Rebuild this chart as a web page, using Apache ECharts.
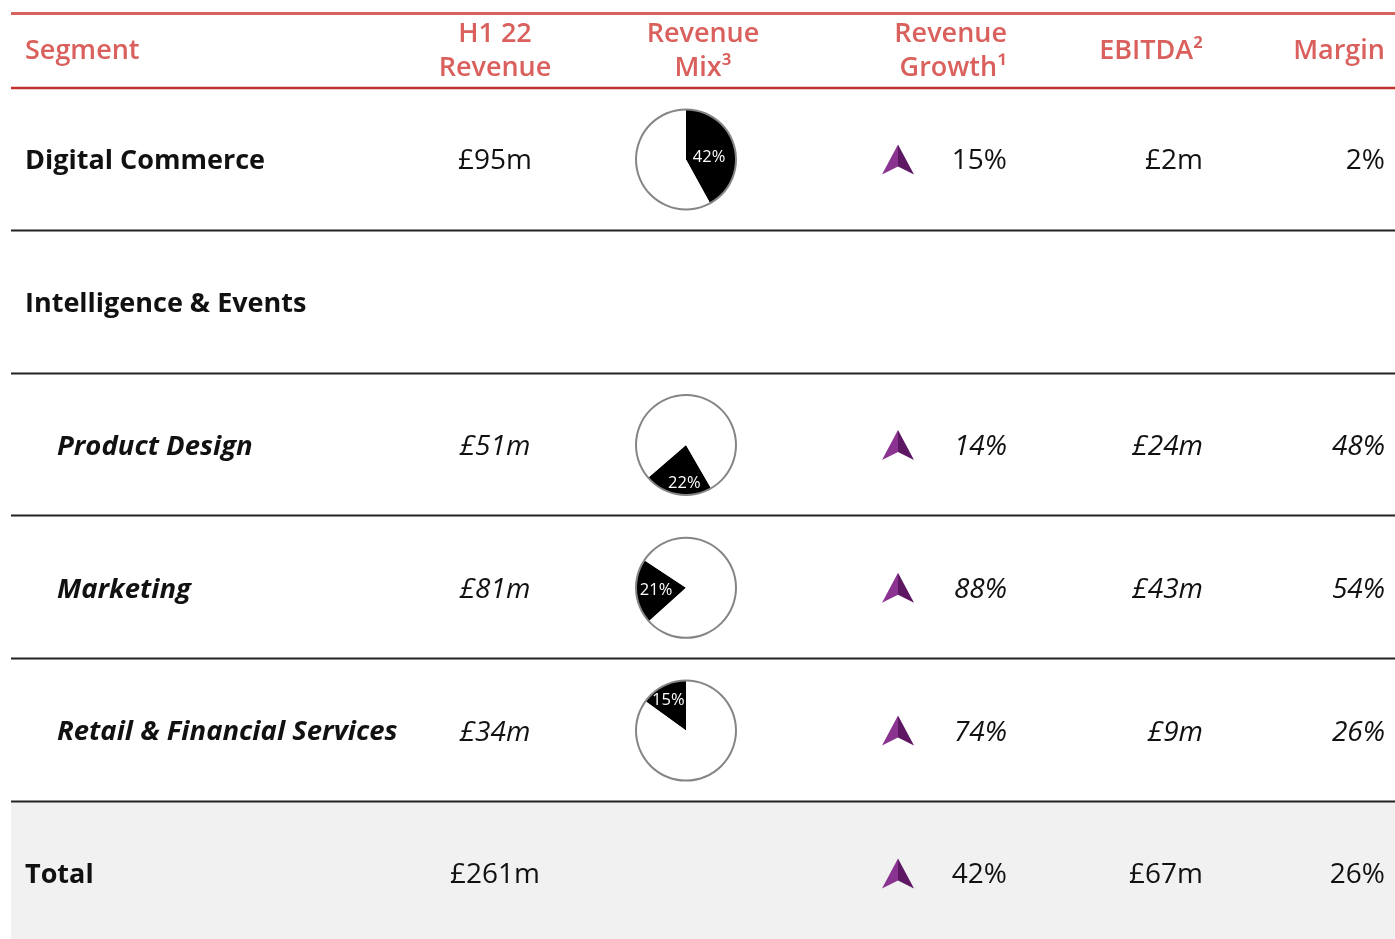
<!DOCTYPE html>
<html>
<head>
<meta charset="utf-8">
<script src="https://cdn.jsdelivr.net/npm/echarts@6/dist/echarts.min.js"></script>
<style>
  html, body { margin: 0; padding: 0; background: #ffffff; }
  #chart { width: 1395px; height: 939px; }
</style>
</head>
<body>
<div id="chart"></div>
<script>
// ---------------- data ----------------
const headers = ['Segment', 'H1 22\nRevenue', 'Revenue\nMix³', 'Revenue\nGrowth¹', 'EBITDA²', 'Margin'];
const segments = ['Digital Commerce', 'Intelligence & Events', 'Product Design', 'Marketing', 'Retail & Financial Services', 'Total'];
const level = [0, 0, 1, 1, 1, 0];            // 1 = sub-segment of Intelligence & Events
const revenue = [95, null, 51, 81, 34, 261];   // £m
const revenueMix = [42, null, 22, 21, 15, null]; // %
const growth = [15, null, 14, 88, 74, 42];     // %
const ebitda = [2, null, 24, 43, 9, 67];       // £m
const margin = [2, null, 48, 54, 26, 26];      // %
const pieStartAngle = [90, null, -60, -138, 144, null];

// ---------------- layout ----------------
const W = 1395, H = 939;
const tableLeft = 11;
const headTop = 13, headBottom = 88;
const rowH = 142.8;
const rowCenter = i => headBottom + rowH * (i + 0.5);
const col = { label: 25, indent: 57, revenue: 495, mix: 686, arrow: 898, growth: 1007, ebitda: 1203, margin: 1385 };
const ink = '#111111';
const headColor = '#d9605c';
const numFont = '"Open Sans", "Noto Sans", sans-serif';
const lblFont = '"Open Sans", "Noto Sans", sans-serif';

const chart = echarts.init(document.getElementById('chart'), null, { renderer: 'canvas' });

function textItem(x, i, text, pos, extra) {
  return {
    value: [x, i],
    label: Object.assign({
      show: true, position: pos, distance: 0, formatter: text, offset: [0, 2],
      color: ink, fontFamily: numFont, fontSize: 28, opacity: 1,
      fontStyle: level[i] ? 'italic' : 'normal'
    }, extra || {})
  };
}
function textSeries(items) {
  return {
    type: 'scatter', symbolSize: 0, silent: true, z: 5,
    itemStyle: { opacity: 1 },
    xAxisIndex: 0, yAxisIndex: 0, data: items
  };
}

const labelItems = segments.map((s, i) => textItem(level[i] ? col.indent : col.label, i, s, 'right', {
  fontFamily: lblFont, fontWeight: 'bold', fontSize: level[i] ? 27.5 : 27, fontStyle: level[i] ? 'italic' : 'normal'
}));
const revenueItems = revenue.map((v, i) => v == null ? null : textItem(col.revenue, i, '£' + v + 'm', 'inside'));
const growthItems = growth.map((v, i) => v == null ? null : textItem(col.growth, i, v + '%', 'left'));
const ebitdaItems = ebitda.map((v, i) => v == null ? null : textItem(col.ebitda, i, '£' + v + 'm', 'left'));
const marginItems = margin.map((v, i) => v == null ? null : textItem(col.margin, i, v + '%', 'left'));
const arrowPos = growth.map((v, i) => v == null ? null : [col.arrow, i]);

const series = [
  textSeries(labelItems.filter(Boolean)),
  textSeries(revenueItems.filter(Boolean)),
  textSeries(growthItems.filter(Boolean)),
  textSeries(ebitdaItems.filter(Boolean)),
  textSeries(marginItems.filter(Boolean)),
  {
    type: 'scatter', silent: true, z: 4,
    symbol: 'path://M16 0 L0 30 L16 22 Z', symbolSize: [16, 30], symbolOffset: [-8, 0],
    itemStyle: { color: '#8a3391', opacity: 1 }, data: arrowPos.filter(Boolean)
  },
  {
    type: 'scatter', silent: true, z: 4,
    symbol: 'path://M0 0 L16 30 L0 22 Z', symbolSize: [16, 30], symbolOffset: [8, 0],
    itemStyle: { color: '#5e1763', opacity: 1 }, data: arrowPos.filter(Boolean)
  }
];

const labelOffset = [[-4, 5], null, [3, 11], [-2, 0], [-5, -5], null];
revenueMix.forEach((m, i) => {
  if (m == null) return;
  const center = [col.mix, rowCenter(i)];
  series.push({
    type: 'pie', silent: true, animation: false, z: 3,
    center: center, radius: 50, startAngle: pieStartAngle[i], clockwise: true,
    labelLine: { show: false },
    data: [
      { value: m, itemStyle: { color: '#000000' },
        label: { show: true, position: 'inside', formatter: '{c}%', color: '#ffffff',
                 fontSize: 16.5, fontFamily: numFont, offset: labelOffset[i] } },
      { value: 100 - m, itemStyle: { color: '#ffffff' }, label: { show: false } }
    ]
  });
  series.push({
    type: 'pie', silent: true, animation: false, z: 4,
    center: center, radius: [49, 51], label: { show: false }, labelLine: { show: false },
    data: [{ value: 1, itemStyle: { color: '#858585' } }]
  });
});

// ---------------- table rules & header ----------------
const graphics = [];
graphics.push({
  type: 'rect', z: -10, silent: true,
  shape: { x: tableLeft, y: Math.round(headBottom + rowH * (segments.length - 1)), width: W - tableLeft, height: H },
  style: { fill: '#f1f1f1' }
});
graphics.push({ type: 'line', z: 10, silent: true,
  shape: { x1: tableLeft, y1: headTop + 0.5, x2: W, y2: headTop + 0.5 },
  style: { stroke: '#d8625f', lineWidth: 3 } });
graphics.push({ type: 'line', z: 10, silent: true,
  shape: { x1: tableLeft, y1: headBottom, x2: W, y2: headBottom },
  style: { stroke: '#c0302f', lineWidth: 2.5 } });
for (let i = 1; i < segments.length; i++) {
  const y = Math.round(headBottom + rowH * i) - 0.5;
  graphics.push({ type: 'line', z: 10, silent: true,
    shape: { x1: tableLeft, y1: y, x2: W, y2: y },
    style: { stroke: '#222222', lineWidth: 2 } });
}
const headX = [col.label, col.revenue, 703, col.growth, col.ebitda, col.margin];
const headAlign = ['left', 'center', 'center', 'right', 'right', 'right'];
headers.forEach((h, k) => {
  graphics.push({
    type: 'text', z: 10, silent: true, x: headX[k], y: (headTop + headBottom) / 2 + 1,
    style: {
      text: h, align: headAlign[k], verticalAlign: 'middle',
      fill: headColor, font: '600 27px ' + lblFont, lineHeight: 34
    }
  });
});

chart.setOption({
  animation: false,
  backgroundColor: '#ffffff',
  grid: { left: 0, right: 0, top: headBottom, bottom: 0 },
  xAxis: { type: 'value', min: 0, max: W, show: false },
  yAxis: { type: 'value', inverse: true, min: -0.5, max: -0.5 + (H - headBottom) / rowH, show: false },
  graphic: graphics,
  series: series
});
</script>
</body>
</html>
